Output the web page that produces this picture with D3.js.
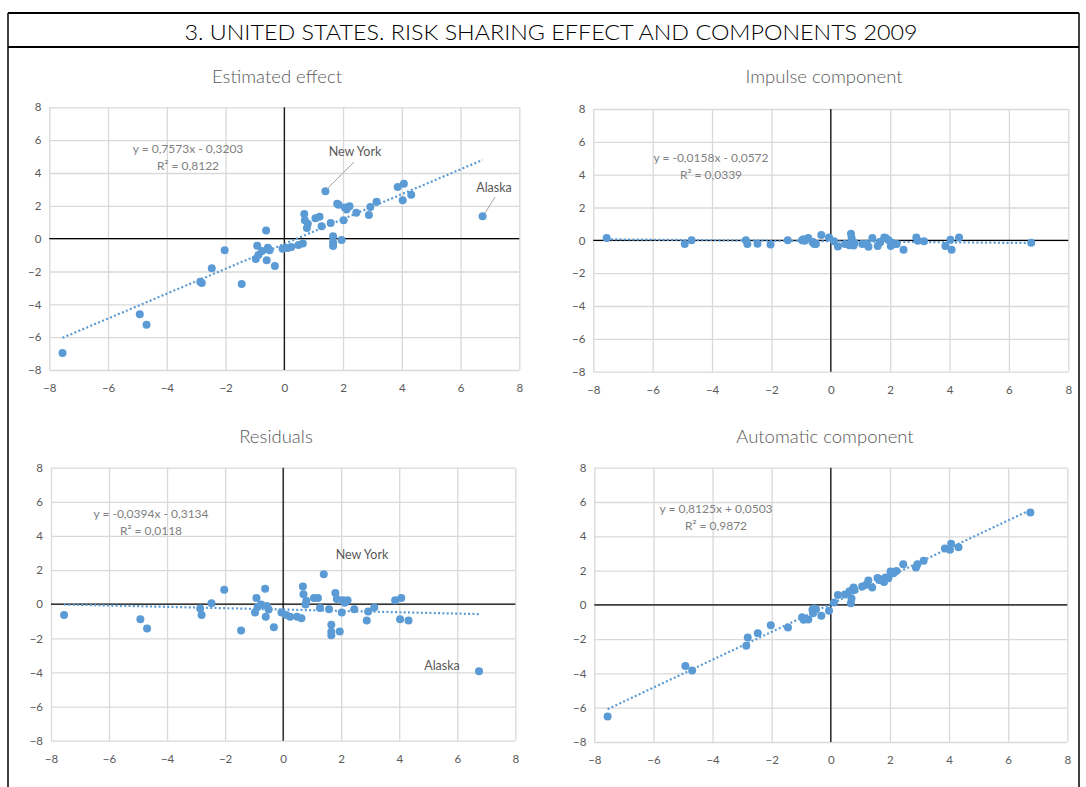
<!DOCTYPE html>
<html>
<head>
<meta charset="utf-8">
<script src="https://cdn.jsdelivr.net/npm/d3@7"></script>
<style>
  html, body { margin: 0; padding: 0; background: #fff; }
  svg { display: block; font-family: Lato, "Open Sans", sans-serif; }
</style>
</head>
<body>
<svg id="chart" width="1086" height="787"></svg>
<script>
// ---------------- DATA ----------------
const chartTitle = "3. UNITED STATES. RISK SHARING EFFECT AND COMPONENTS 2009";
const panelTitles = ["Estimated effect", "Impulse component", "Residuals", "Automatic component"];
const tickValues = [-8, -6, -4, -2, 0, 2, 4, 6, 8];

// common x values (one per state)
const xs = [-7.55,-4.92,-4.69,-2.86,-2.81,-2.47,-2.03,-1.45,-0.97,-0.92,-0.88,-0.76,-0.62,-0.60,-0.56,-0.50,-0.32,-0.06,0.11,0.24,0.48,0.63,0.68,0.70,0.77,0.80,1.06,1.20,1.27,1.40,1.58,1.66,1.66,1.66,1.80,1.95,1.85,2.02,2.06,2.12,2.22,2.45,2.88,2.93,3.14,3.86,4.03,4.07,4.32,6.75];

const estimated = [-6.96,-4.61,-5.24,-2.62,-2.70,-1.81,-0.71,-2.76,-1.24,-0.43,-1.00,-0.75,0.49,-1.32,-0.55,-0.71,-1.66,-0.61,-0.57,-0.51,-0.38,-0.30,1.50,1.12,0.65,0.91,1.24,1.34,0.75,2.88,0.95,0.14,-0.24,-0.45,2.13,-0.08,2.07,1.12,1.89,1.77,1.97,1.58,1.44,1.93,2.25,3.15,2.34,3.35,2.68,1.36];

const impulse = [0.14,-0.22,0.00,0.00,-0.22,-0.20,-0.26,0.00,0.00,0.06,-0.02,0.14,-0.10,-0.10,-0.22,-0.22,0.32,0.18,-0.06,-0.37,-0.22,-0.30,0.40,0.14,-0.32,-0.15,-0.22,-0.20,-0.39,0.14,-0.35,-0.12,-0.10,-0.10,0.18,0.00,0.15,-0.35,-0.15,-0.20,-0.22,-0.57,0.18,-0.02,-0.06,-0.35,0.04,-0.57,0.18,-0.14];

const residuals = [-0.63,-0.88,-1.43,-0.25,-0.63,0.06,0.84,-1.54,-0.49,0.37,-0.16,-0.02,0.90,-0.74,-0.10,-0.31,-1.35,-0.49,-0.63,-0.74,-0.74,-0.82,1.04,0.59,-0.02,0.20,0.37,0.37,-0.23,1.76,-0.29,-1.21,-1.62,-1.82,0.66,-1.60,0.30,-0.49,0.23,0.08,0.23,-0.29,-0.96,-0.43,-0.20,0.23,-0.88,0.37,-0.96,-3.93];

const automatic = [-6.51,-3.56,-3.83,-2.39,-1.91,-1.65,-1.19,-1.32,-0.72,-0.87,-0.82,-0.85,-0.29,-0.49,-0.21,-0.25,-0.64,-0.35,0.14,0.58,0.60,0.80,0.10,0.37,1.01,0.87,1.07,1.17,1.42,1.01,1.57,1.46,1.50,1.45,1.34,1.55,1.60,1.94,1.85,1.85,1.98,2.37,2.18,2.37,2.57,3.29,3.21,3.56,3.36,5.38];

// linear trend lines
const trendSlopes = [0.7573, -0.0158, -0.0394, 0.8125];
const trendIntercepts = [-0.3203, -0.0572, -0.3134, 0.0503];
const equationLabels = ["y = 0,7573x - 0,3203", "y = -0,0158x - 0,0572", "y = -0,0394x - 0,3134", "y = 0,8125x + 0,0503"];
const r2Labels = ["R² = 0,8122", "R² = 0,0339", "R² = 0,0118", "R² = 0,9872"];

const stateLabels = ["New York", "Alaska"];

// ---------------- LAYOUT ----------------
const seriesList = [estimated, impulse, residuals, automatic];
const panels = [
  { x0: 49.3, x1: 519.3, yTop: 107.3, yBot: 370, titleX: 277, titleY: 83, eqX: 188, eqY: 153,
    notes: [ {t: 0, x: 355, y: 156, line: [354, 162, 327, 189]}, {t: 1, x: 494, y: 192, line: [495, 197, 485, 213]} ] },
  { x0: 593.3, x1: 1068.3, yTop: 109, yBot: 371.7, titleX: 824, titleY: 83, eqX: 711, eqY: 162, notes: [] },
  { x0: 51, x1: 515.3, yTop: 467.7, yBot: 740.7, titleX: 276, titleY: 443, eqX: 151, eqY: 518,
    notes: [ {t: 0, x: 362, y: 559}, {t: 1, x: 442, y: 670} ] },
  { x0: 594.3, x1: 1067.3, yTop: 467.7, yBot: 742, titleX: 825, titleY: 443, eqX: 716, eqY: 513, notes: [] }
];

const svg = d3.select("#chart");
svg.append("rect").attr("width", 1086).attr("height", 787).attr("fill", "#fff");

// outer frame
const frame = svg.append("g").attr("stroke", "#000").attr("fill", "none");
frame.append("line").attr("x1", 8).attr("x2", 1079).attr("y1", 13).attr("y2", 13).attr("stroke-width", 2);
frame.append("line").attr("x1", 8).attr("x2", 1079).attr("y1", 47).attr("y2", 47).attr("stroke-width", 2);
frame.append("line").attr("x1", 8).attr("x2", 8).attr("y1", 13).attr("y2", 787).attr("stroke-width", 1.5);
frame.append("line").attr("x1", 1079).attr("x2", 1079).attr("y1", 13).attr("y2", 787).attr("stroke-width", 1.5);

const title = svg.append("text")
  .attr("x", 551).attr("y", 40).attr("text-anchor", "middle")
  .attr("font-size", 22).attr("fill", "#000").attr("font-weight", 300)
  .text(chartTitle);
const tw = title.node().getComputedTextLength();
if (tw > 0) title.attr("textLength", 733).attr("lengthAdjust", "spacingAndGlyphs");

const blue = "#5b9bd5";
const grid = "#d9d9d9";
const labelGray = "#595959";

panels.forEach((p, i) => {
  const x = d3.scaleLinear().domain([-8, 8]).range([p.x0, p.x1]);
  const y = d3.scaleLinear().domain([-8, 8]).range([p.yBot, p.yTop]);
  const g = svg.append("g");

  // gridlines
  const gx = d3.axisBottom(x).tickValues(tickValues).tickSize(-(p.yBot - p.yTop)).tickFormat("");
  const gy = d3.axisLeft(y).tickValues(tickValues).tickSize(-(p.x1 - p.x0)).tickFormat("");
  g.append("g").attr("transform", `translate(0,${p.yBot})`).call(gx)
    .call(s => s.select(".domain").remove())
    .call(s => s.selectAll("line").attr("stroke", grid).attr("stroke-width", 1.3));
  g.append("g").attr("transform", `translate(${p.x0},0)`).call(gy)
    .call(s => s.select(".domain").remove())
    .call(s => s.selectAll("line").attr("stroke", grid).attr("stroke-width", 1.3));

  // zero axes
  g.append("line").attr("x1", x(-8)).attr("x2", x(8)).attr("y1", y(0)).attr("y2", y(0))
    .attr("stroke", "#000").attr("stroke-width", 1.2);
  g.append("line").attr("x1", x(0)).attr("x2", x(0)).attr("y1", y(-8)).attr("y2", y(8))
    .attr("stroke", "#000").attr("stroke-width", 1.2);

  // tick labels
  const ax = d3.axisBottom(x).tickValues(tickValues).tickSize(0).tickPadding(14);
  g.append("g").attr("transform", `translate(0,${p.yBot})`).call(ax)
    .call(s => s.select(".domain").remove())
    .call(s => s.selectAll("text").attr("fill", labelGray).attr("font-size", 11.5).attr("font-family", "Lato, 'Open Sans', sans-serif"));
  const ay = d3.axisLeft(y).tickValues(tickValues).tickSize(0).tickPadding(8);
  g.append("g").attr("transform", `translate(${p.x0},0)`).call(ay)
    .call(s => s.select(".domain").remove())
    .call(s => s.selectAll("text").attr("fill", labelGray).attr("font-size", 11.5).attr("font-family", "Lato, 'Open Sans', sans-serif"));

  // panel title
  g.append("text").attr("x", p.titleX).attr("y", p.titleY).attr("text-anchor", "middle")
    .attr("font-size", 18.5).attr("font-weight", 300).attr("fill", labelGray).text(panelTitles[i]);

  // trend line (dotted)
  const vals = seriesList[i];
  const xExt = d3.extent(xs);
  const line = d3.line().x(d => x(d)).y(d => y(trendSlopes[i] * d + trendIntercepts[i]));
  g.append("path").attr("d", line(xExt)).attr("fill", "none")
    .attr("stroke", blue).attr("stroke-width", 2.2).attr("stroke-dasharray", "2,2.3");

  // points
  g.append("g").selectAll("circle").data(xs.map((xv, k) => [xv, vals[k]])).join("circle")
    .attr("cx", d => x(d[0])).attr("cy", d => y(d[1])).attr("r", 4)
    .attr("fill", blue);

  // equation
  g.append("text").attr("x", p.eqX).attr("y", p.eqY).attr("text-anchor", "middle")
    .attr("font-size", 12).attr("fill", "#7f7f7f").text(equationLabels[i]);
  g.append("text").attr("x", p.eqX).attr("y", p.eqY + 16.5).attr("text-anchor", "middle")
    .attr("font-size", 12).attr("fill", "#7f7f7f").text(r2Labels[i]);

  // state annotations
  p.notes.forEach(n => {
    g.append("text").attr("x", n.x).attr("y", n.y).attr("text-anchor", "middle")
      .attr("font-size", 12.5).attr("fill", labelGray).text(stateLabels[n.t]);
    if (n.line) {
      g.append("line").attr("x1", n.line[0]).attr("y1", n.line[1]).attr("x2", n.line[2]).attr("y2", n.line[3])
        .attr("stroke", "#a6a6a6").attr("stroke-width", 1);
    }
  });
});
</script>
</body>
</html>
